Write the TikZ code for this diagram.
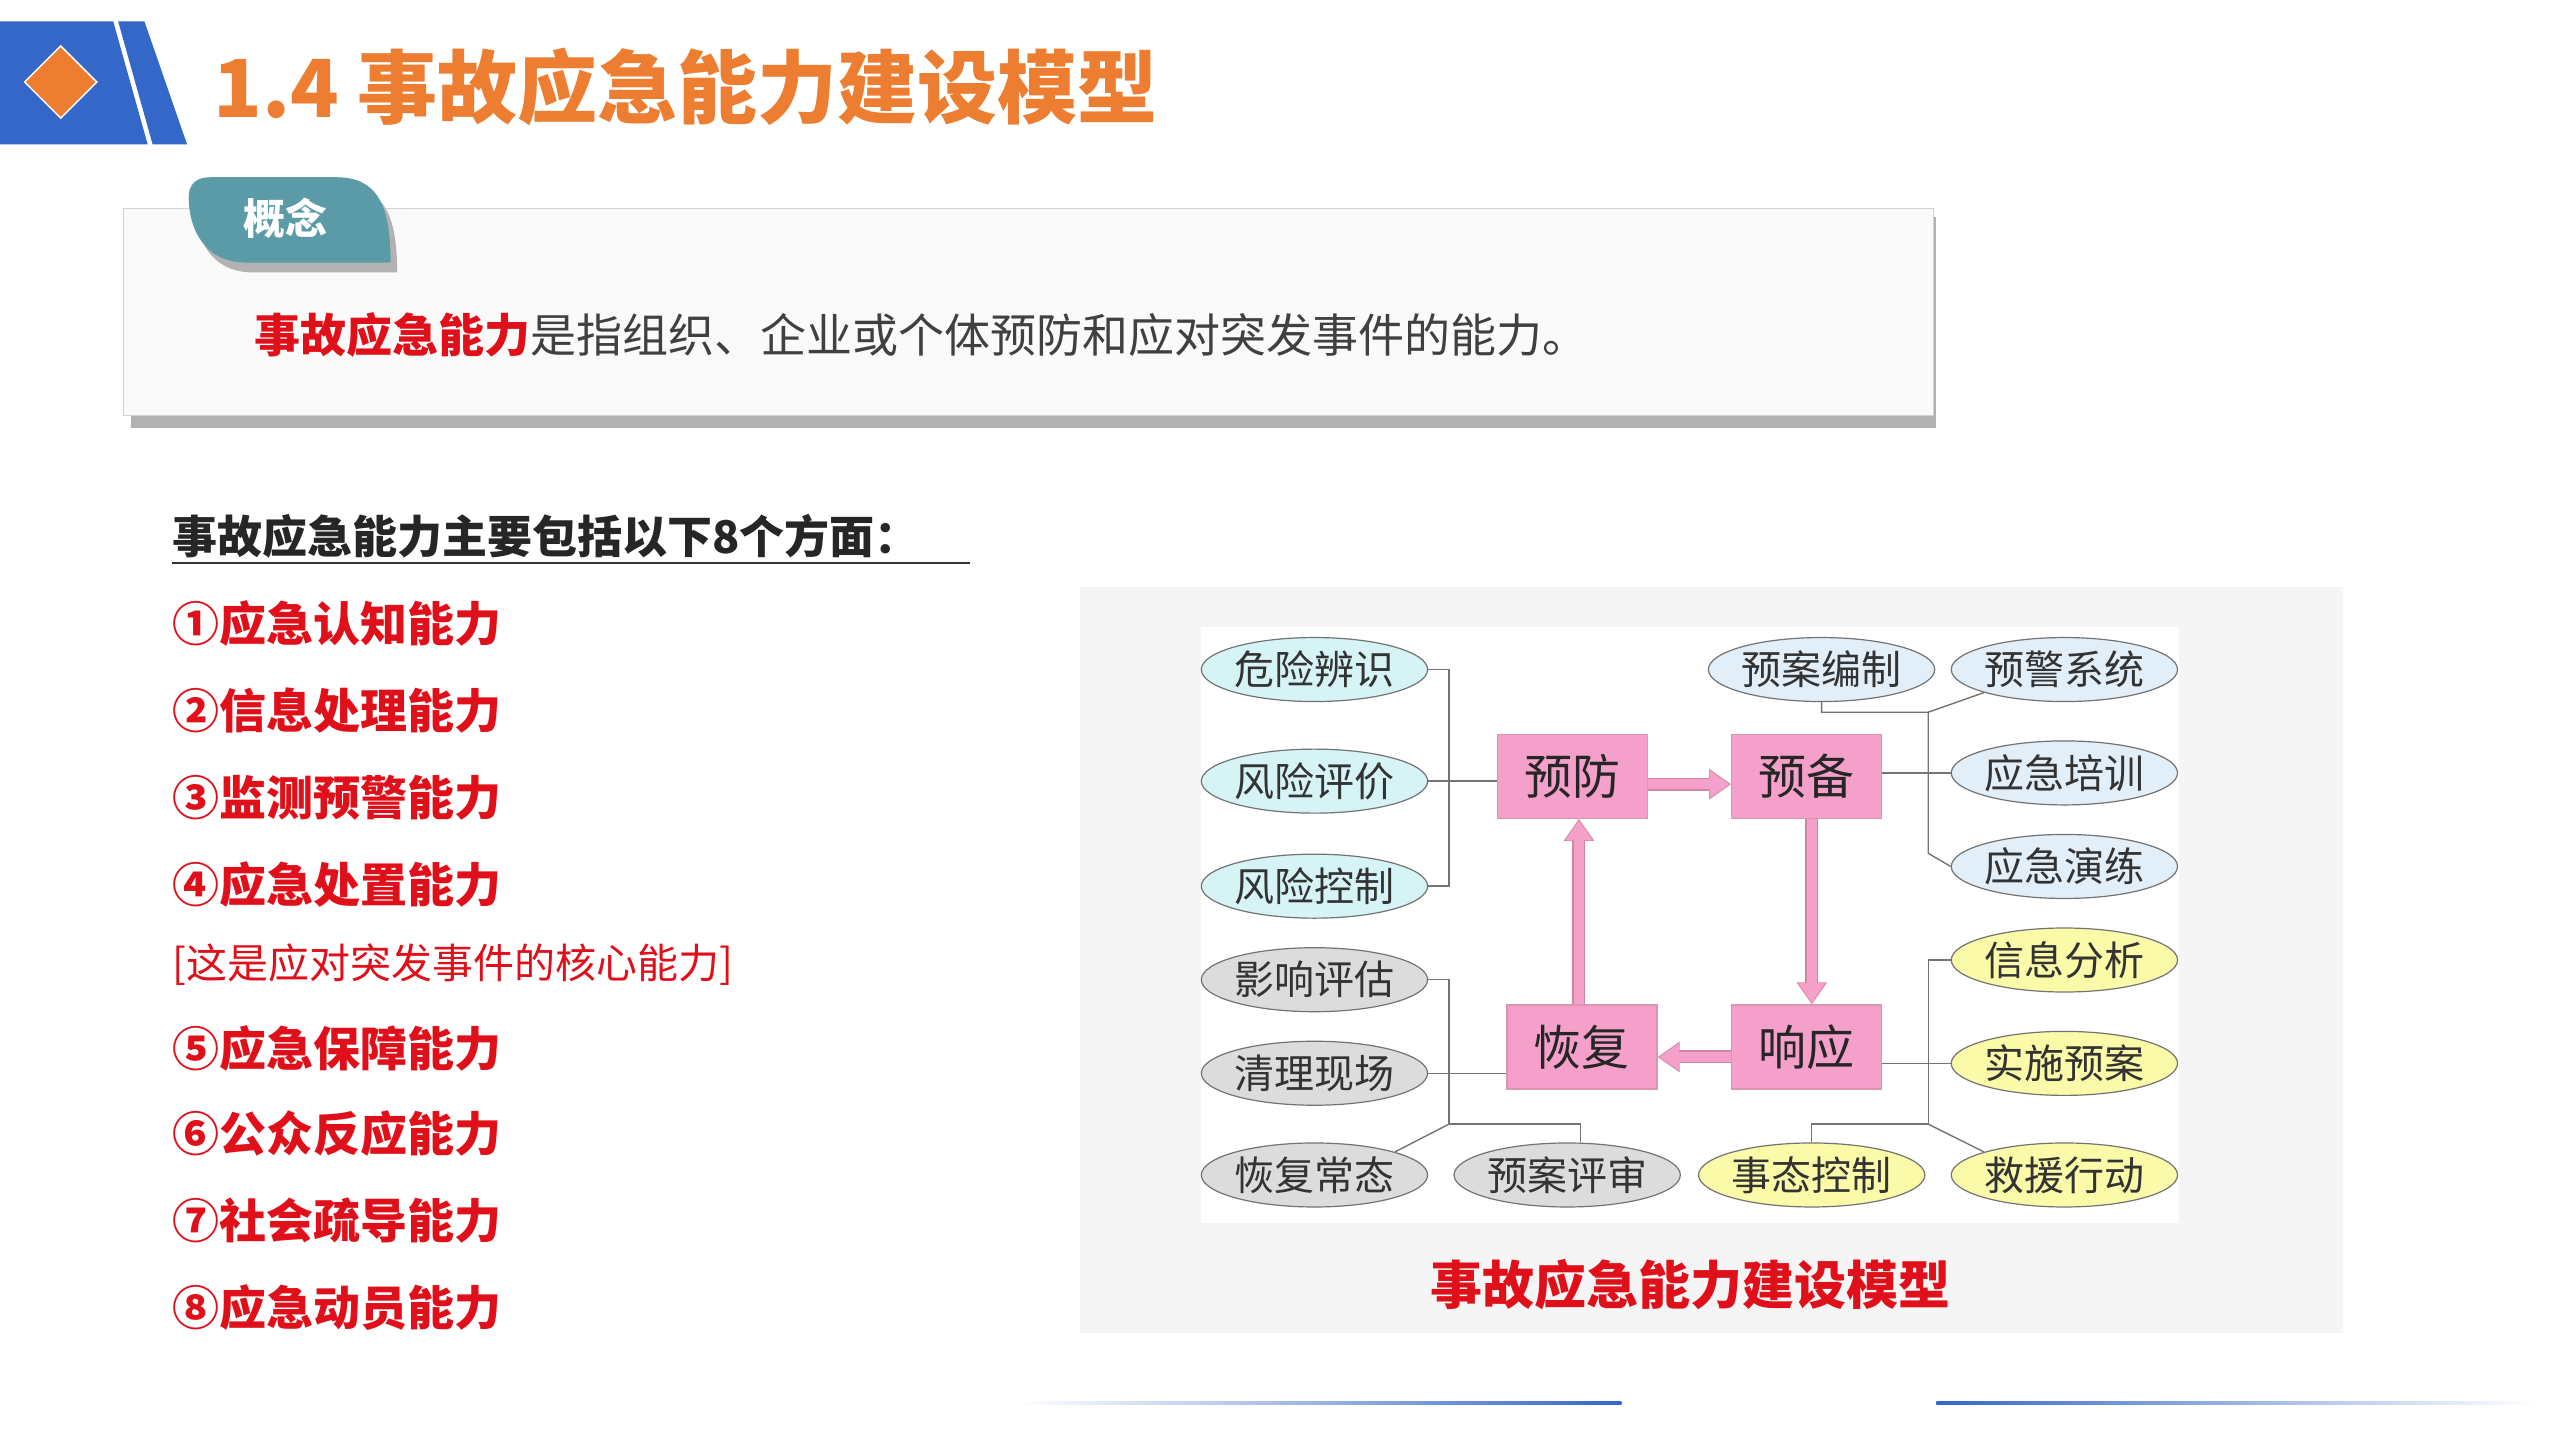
\documentclass[tikz,border=0pt]{standalone}
\usepackage{fontspec}
\setmainfont{Noto Sans CJK SC}
\usetikzlibrary{arrows.meta,shapes.geometric}
\definecolor{hblue}{HTML}{3567C8}
\definecolor{horange}{HTML}{ED7D31}
\definecolor{hred}{HTML}{E0101A}
\definecolor{teal1}{HTML}{5B9BA8}
\definecolor{cyanE}{HTML}{D6F4F6}
\definecolor{grayE}{HTML}{DCDCDC}
\definecolor{blueE}{HTML}{E2EEF8}
\definecolor{yelE}{HTML}{FAFAA8}
\definecolor{pinkB}{HTML}{F5A0CA}
\definecolor{pinkD}{HTML}{C0507A}
\tikzset{
 x=1.641pt,y=-1.641pt,
 ell/.style={ellipse,draw=black!55,line width=1.2pt,minimum width=213pt,minimum height=64pt,inner sep=0pt,font=\fontsize{40}{42}\selectfont,text=black!80},
 pbox/.style={rectangle,draw=pinkD!60,line width=1.2pt,fill=pinkB,minimum width=150pt,minimum height=84pt,font=\fontsize{48}{50}\selectfont,text=black!85},
 conn/.style={draw=black!55,line width=1.4pt},
 bigarr/.style={draw=pinkB,line width=10pt,-{Triangle[width=26pt,length=20pt]}},
 bigarro/.style={draw=pinkD!70,line width=13pt,-{Triangle[width=29pt,length=22pt]}},
 item/.style={anchor=west,text=hred,font=\bfseries\fontsize{47}{49}\selectfont},
}
\begin{document}
\begin{tikzpicture}
\useasboundingbox (0,0) rectangle (1560,877.5);
% header
\fill[hblue] (0,13) -- (69,13) -- (90,88) -- (0,88) -- cycle;
\fill[hblue] (72,13) -- (88,13) -- (114,88) -- (93,88) -- cycle;
\draw[white,line width=1.5pt,fill=horange] (37,28) -- (59,50) -- (37,72) -- (15,50) -- cycle;
\node[anchor=west,text=horange,font=\bfseries\fontsize{80}{82}\selectfont,inner sep=0pt] (title) at (130,53) {1.4 事故应急能力建设模型};
% concept box
\fill[black!30] (80,132) rectangle (1180,261);
\draw[fill=black!2,draw=black!18,line width=1pt] (75,127) rectangle (1178,253);
\fill[black!30,shift={(4,6)}] (128,108) -- (205,108) .. controls (230,108) and (238,125) .. (238,160) -- (150,160) .. controls (125,160) and (115,140) .. (115,120) .. controls (115,112) and (120,108) .. (128,108) -- cycle;
\fill[teal1] (128,108) -- (205,108) .. controls (230,108) and (238,125) .. (238,160) -- (150,160) .. controls (125,160) and (115,140) .. (115,120) .. controls (115,112) and (120,108) .. (128,108) -- cycle;
\node[text=white,font=\bfseries\fontsize{42}{44}\selectfont] (tab) at (174,133) {概念};
\node[anchor=west,font=\fontsize{46}{48}\selectfont,text=black!75,inner sep=0pt] (def) at (155,204) {\textcolor{hred}{\bfseries 事故应急能力}是指组织、企业或个体预防和应对突发事件的能力。};
% list
\node[anchor=west,inner sep=0pt,text=black!85,font=\bfseries\fontsize{45}{47}\selectfont] (head) at (105,327) {事故应急能力主要包括以下8个方面：};
\draw[black!80,line width=1.3pt] (105,343) -- (591,343);
\node[item,inner sep=0pt] (i1) at (105,380) {①应急认知能力};
\node[item,inner sep=0pt] (i2) at (105,433) {②信息处理能力};
\node[item,inner sep=0pt] (i3) at (105,486) {③监测预警能力};
\node[item,inner sep=0pt] (i4) at (105,539) {④应急处置能力};
\node[anchor=west,inner sep=0pt,text=hred,font=\fontsize{41}{43}\selectfont] (note) at (105,588) {[这是应对突发事件的核心能力]};
\node[item,inner sep=0pt] (i5) at (105,639) {⑤应急保障能力};
\node[item,inner sep=0pt] (i6) at (105,691) {⑥公众反应能力};
\node[item,inner sep=0pt] (i7) at (105,744) {⑦社会疏导能力};
\node[item,inner sep=0pt] (i8) at (105,797) {⑧应急动员能力};
% diagram panel
\fill[black!4] (658,358) rectangle (1428,812);
\fill[white] (732,382) rectangle (1328,745);
\node[text=hred,font=\bfseries\fontsize{52}{54}\selectfont] (cap) at (1030,783) {事故应急能力建设模型};
% boxes
\node[pbox] (yf) at (958,473) {预防};
\node[pbox] (yb) at (1101,473) {预备};
\node[pbox] (hf) at (964,638) {恢复};
\node[pbox] (xy) at (1101,638) {响应};
% ellipses
\node[ell,fill=cyanE] (e1) at (801,408) {危险辨识};
\node[ell,fill=cyanE] (e2) at (801,476) {风险评价};
\node[ell,fill=cyanE] (e3) at (801,540) {风险控制};
\node[ell,fill=grayE] (e4) at (801,597) {影响评估};
\node[ell,fill=grayE] (e5) at (801,654) {清理现场};
\node[ell,fill=grayE] (e6) at (801,716) {恢复常态};
\node[ell,fill=grayE] (e7) at (955,716) {预案评审};
\node[ell,fill=yelE] (e8) at (1104,716) {事态控制};
\node[ell,fill=blueE] (r0) at (1110,408) {预案编制};
\node[ell,fill=blueE] (r1) at (1258,408) {预警系统};
\node[ell,fill=blueE] (r2) at (1258,471) {应急培训};
\node[ell,fill=blueE] (r3) at (1258,528) {应急演练};
\node[ell,fill=yelE] (r4) at (1258,585) {信息分析};
\node[ell,fill=yelE] (r5) at (1258,648) {实施预案};
\node[ell,fill=yelE] (r6) at (1258,716) {救援行动};
% connectors
\coordinate (lA) at (883,408); \coordinate (lB) at (883,540);
\draw[conn] (e1.east) -- (lA) -- (lB) -- (e3.east);
\draw[conn] (e2.east) -- (e2.east -| yf.west);
\coordinate (lC) at (883,597); \coordinate (lD) at (883,685); \coordinate (lE) at (963,685);
\draw[conn] (e4.east) -- (lC) -- (lD) -- (lE) -- (e7.north -| lE);
\draw[conn] (e6.north east) -- (lD);
\draw[conn] (e5.east) -- (e5.east -| hf.west);
\coordinate (rA) at (1110,434); \coordinate (rB) at (1175,434); \coordinate (rC) at (1175,520);
\draw[conn] (r0.south) -- (rA) -- (rB) -- (rC) -- (r3.west);
\draw[conn] (rB) -- (r1.south west);
\draw[conn] (yb.east |- r2.west) -- (r2.west);
\coordinate (rD) at (1175,585); \coordinate (rE) at (1175,685); \coordinate (rF) at (1104,685);
\draw[conn] (r4.west) -- (rD) -- (rE) -- (rF) -- (e8.north);
\draw[conn] (rE) -- (r6.north west);
\draw[conn] (xy.east |- r5.west) -- (r5.west);
% big arrows
\draw[bigarro] ([yshift=-8pt]yf.east) -- ([yshift=-8pt]yb.west);
\draw[bigarr] ([yshift=-8pt]yf.east) -- ([yshift=-8pt,xshift=-1.5pt]yb.west);
\draw[bigarro] ([xshift=5pt]yb.south) -- ([xshift=5pt]xy.north);
\draw[bigarr] ([xshift=5pt]yb.south) -- ([xshift=5pt,yshift=1.5pt]xy.north);
\draw[bigarro] ([yshift=-10pt]xy.west) -- ([yshift=-10pt]hf.east);
\draw[bigarr] ([yshift=-10pt]xy.west) -- ([yshift=-10pt,xshift=1.5pt]hf.east);
\draw[bigarro] ([xshift=-3pt]hf.north) -- ([xshift=-3pt]hf.north |- yf.south);
\draw[bigarr] ([xshift=-3pt]hf.north) -- ([xshift=-3pt,yshift=-1.5pt]hf.north |- yf.south);
% bottom lines
\shade[left color=white,right color=hblue] (620,854) rectangle (988,856);
\shade[left color=hblue,right color=white] (1180,854) rectangle (1545,856);
\end{tikzpicture}
\end{document}
